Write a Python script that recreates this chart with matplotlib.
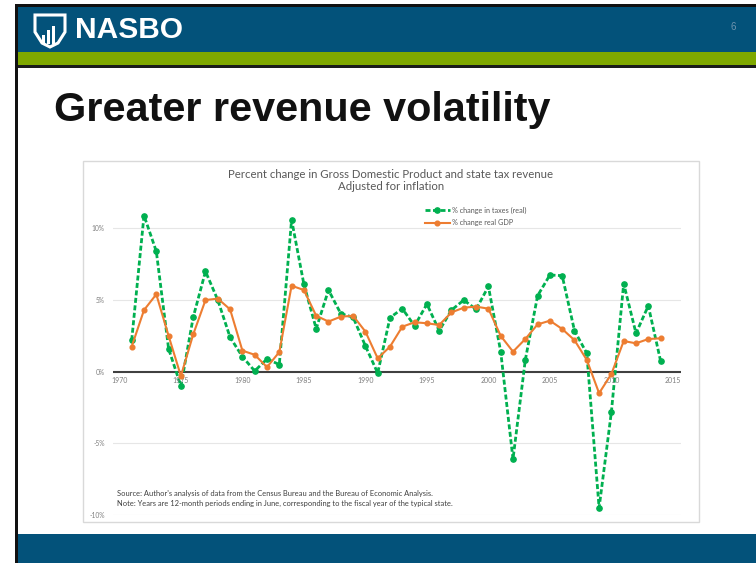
import matplotlib
matplotlib.use("Agg")
import matplotlib.pyplot as plt
from matplotlib.patches import Rectangle, Polygon

# ---------------- data ----------------
years = list(range(1971, 2015))
taxes_real = [2.2, 10.9, 8.4, 1.6, -1.0, 3.8, 7.0, 5.0, 2.4, 1.05,
              0.05, 0.89, 0.5, 10.6, 6.1, 3.0, 5.7, 4.05, 3.8, 1.8,
              -0.1, 3.77, 4.4, 3.2, 4.72, 2.86, 4.3, 5.0, 4.35, 5.95,
              1.4, -6.1, 0.82, 5.3, 6.75, 6.7, 2.86, 1.28, -9.5, -2.8,
              6.15, 2.68, 4.6, 0.75]
gdp_real = [1.75, 4.3, 5.4, 2.5, -0.3, 2.6, 5.0, 5.1, 4.35, 1.47,
            1.18, 0.32, 1.37, 6.0, 5.7, 3.9, 3.5, 3.84, 3.9, 2.8,
            0.93, 1.75, 3.14, 3.45, 3.38, 3.26, 4.14, 4.47, 4.54, 4.4,
            2.5, 1.4, 2.28, 3.3, 3.56, 2.98, 2.2, 0.82, -1.5, -0.16,
            2.14, 1.98, 2.28, 2.33]
x_ticks = [1970, 1975, 1980, 1985, 1990, 1995, 2000, 2005, 2010, 2015]
y_ticks = [-10, -5, 0, 5, 10]
y_tick_labels = ["-10%", "-5%", "0%", "5%", "10%"]
series_labels = ["% change in taxes (real)", "% change real GDP"]
chart_title = "Percent change in Gross Domestic Product and state tax revenue\nAdjusted for inflation"
slide_title = "Greater revenue volatility"
source_note = ("Source: Author's analysis of data from the Census Bureau and the Bureau of Economic Analysis.\n"
               "Note: Years are 12-month periods ending in June, corresponding to the fiscal year of the typical state.")

W, H = 756, 563
BLUE = "#03527A"
GREEN_BAND = "#7FA800"
TAX_C = "#00B050"
GDP_C = "#ED7D31"
TXT_GRAY = "#7F7F7F"

fig = plt.figure(figsize=(W / 100, H / 100), dpi=100)
fig.patch.set_facecolor("white")

# background axes in pixel coordinates
bg = fig.add_axes([0, 0, 1, 1])
bg.set_xlim(0, W)
bg.set_ylim(H, 0)
bg.axis("off")

# slide frame
bg.add_patch(Rectangle((14.7, 4), W - 14.7, 3, color="#111111", lw=0))
bg.add_patch(Rectangle((14.7, 4), 2.8, H - 4, color="#111111", lw=0))
bg.add_patch(Rectangle((17.5, 6.7), W - 17.5, 45.3, color=BLUE, lw=0))
bg.add_patch(Rectangle((17.5, 52), W - 17.5, 13, color=GREEN_BAND, lw=0))
bg.add_patch(Rectangle((17.5, 65), W - 17.5, 3, color="#1a1a1a", lw=0))
bg.add_patch(Rectangle((17.5, 533.5), W - 17.5, H - 533.5, color=BLUE, lw=0))

# logo icon (simple shield with bars)
shield = Polygon([(35, 15), (65, 15), (65, 32), (58, 43), (50, 47), (42, 43), (35, 32)],
                 closed=True, fill=False, ec="white", lw=2.2)
bg.add_patch(shield)
for bx, bh in [(42, 9), (47, 14), (52, 18)]:
    bg.add_patch(Rectangle((bx, 44 - bh), 2.8, bh, color="white", lw=0))
bg.text(75, 30, "NASBO", color="white", fontsize=21.5, fontweight="bold",
        family="Liberation Sans", va="center", ha="left")
bg.text(733, 27, "6", color="#6F93AE", fontsize=7, family="Liberation Sans",
        va="center", ha="center")

# slide title
bg.text(54, 110, slide_title, color="#111111", fontsize=29.8, fontweight="bold",
        family="Liberation Sans", va="center", ha="left")

# chart box
bg.add_patch(Rectangle((83, 160.5), 616, 361.5, fc="white", ec="#D9D9D9", lw=1))

bg.text(391, 180.5, chart_title, color="#595959", fontsize=8.2, family="Lato",
        ha="center", va="center", linespacing=1.1)
bg.text(117, 498.5, source_note, color="#404040", fontsize=5.4, family="Lato",
        ha="left", va="center", linespacing=1.5)

# ---------------- chart axes ----------------
x0, x1 = 113, 681
y_bot, y_top = 515, 206.9
ax = fig.add_axes([x0 / W, 1 - y_bot / H, (x1 - x0) / W, (y_bot - y_top) / H])
ax.patch.set_alpha(0)
px_per_year = 12.3
ax.set_xlim(1970 - (119.4 - x0) / px_per_year, 1970 + (x1 - 119.4) / px_per_year)
ax.set_ylim(-10, -10 + (y_bot - y_top) / 14.33)
for s in ax.spines.values():
    s.set_visible(False)

for yt in y_ticks:
    if yt != 0:
        ax.axhline(yt, color="#E6E6E6", lw=0.8, zorder=0)
ax.axhline(0, color="#404040", lw=1.5, zorder=1)

ax.plot(years, taxes_real, color=TAX_C, lw=2.0, ls=(0, (1.8, 0.9)), marker="o",
        ms=3.8, mec=TAX_C, mfc=TAX_C, label=series_labels[0], zorder=3, clip_on=False)
ax.plot(years, gdp_real, color=GDP_C, lw=1.5, marker="o", ms=3.4,
        mec=GDP_C, mfc=GDP_C, label=series_labels[1], zorder=4, clip_on=False)

ax.set_yticks(y_ticks)
ax.set_yticklabels(y_tick_labels)
ax.tick_params(axis="y", length=0, pad=6, labelsize=4.8, labelcolor=TXT_GRAY)
ax.set_xticks([])
for xt in x_ticks:
    ax.text(xt, -0.35, str(xt), ha="center", va="top", fontsize=5.0,
            color=TXT_GRAY, family="Lato")
for lbl in ax.get_yticklabels():
    lbl.set_family("Lato")

leg = ax.legend(loc="upper left", bbox_to_anchor=(425 / W, 1 - 206.5 / H),
                bbox_transform=fig.transFigure, frameon=False,
                prop={"family": "Lato", "size": 5.2}, handlelength=3.4,
                handletextpad=0.4, labelspacing=0.75, borderpad=0, borderaxespad=0)
for t in leg.get_texts():
    t.set_color("#595959")

fig.savefig("out.png", dpi=100)
